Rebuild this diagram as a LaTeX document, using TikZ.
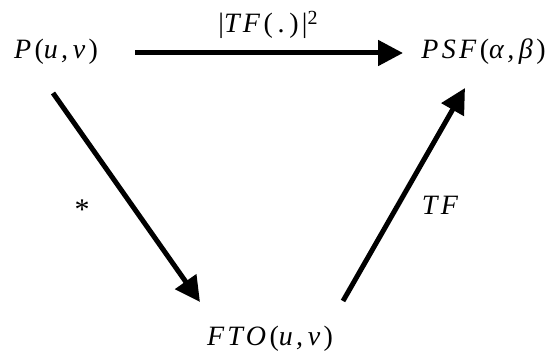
\documentclass[tikz,border=0pt]{standalone}
\usepackage{fontspec}
\setmainfont{Liberation Serif}
\usetikzlibrary{arrows.meta}
\newfontfamily\lblfont[LetterSpace=12]{Liberation Serif}
\newcommand\up[1]{\textup{#1}}
\begin{document}
\begin{tikzpicture}[x=1pt,y=-1pt,
  lab/.style={font=\lblfont\fontsize{28}{32}\selectfont\itshape, inner sep=0pt, anchor=base},
  arr/.style={line width=5pt, -{Triangle[length=25pt,width=25pt]}}]
\useasboundingbox (0,0) rectangle (549,363);
\node[lab] (P) at (56,59) {P\up{(}u,\,v\up{)}};
\node[lab] (PSF) at (483.5,59) {PSF\up{(}α,\,β\up{)}};
\node[lab] (FTO) at (270,345) {FTO\up{(}u,\,v\up{)}};
\node[lab] (l1) at (268,33) {\up{|}TF\up{(\,.\,)|}\raisebox{8.5pt}{\up{\fontsize{20}{20}\selectfont 2}}};
\node[lab] (l2) at (440,215) {TF};
\node[lab, anchor=center, font=\fontsize{30}{34}\selectfont] (l3) at (82,210) {*};
\coordinate (h1) at (135,53);
\coordinate (h2) at (403,53);
\coordinate (p1) at (53,93);
\coordinate (f1) at (200,302);
\coordinate (f2) at (343,301);
\coordinate (s2) at (465,88);
\draw[arr] (h1) -- (h2);
\draw[arr] (p1) -- (f1);
\draw[arr] (f2) -- (s2);
\end{tikzpicture}
\end{document}
